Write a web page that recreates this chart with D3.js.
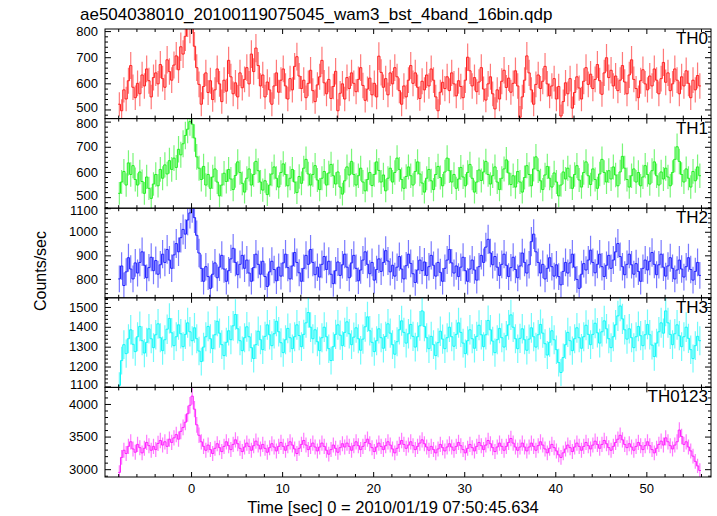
<!DOCTYPE html>
<html><head><meta charset="utf-8">
<script src="https://cdn.jsdelivr.net/npm/d3@7"></script>
<style>body{margin:0;background:#fff}svg{display:block}text{font-family:"Liberation Sans",Helvetica,Arial,sans-serif}</style>
</head><body><svg id="c" width="717" height="516"></svg>
<script>
const title = "ae504038010_20100119075045_wam3_bst_4band_16bin.qdp";
const xLabel = "Time [sec] 0 = 2010/01/19 07:50:45.634";
const yLabel = "Counts/sec";
const tStart = -8, binWidth = 0.25;
const panelNames = ["TH0","TH1","TH2","TH3","TH0123"];
const panelColors = ["#ff2020","#20f020","#2020ff","#10f8f8","#ff20ff"];
const yDomains = [[465,808],[456,812],[720,1100],[1095,1546],[2880,4254]];
const yTicks = [[500,600,700,800],[500,600,700,800],[800,900,1000,1100],[1100,1200,1300,1400,1500],[3000,3500,4000]];
const yMinorStep = [20,20,20,20,100];
const xTicks = [0,10,20,30,40,50];
const xDomain = [-9.45, 57.1];

const th0 = [520,495,575,540,610,668,585,545,600,560,632,590,655,610,548,622,640,598,672,618,585,690,645,612,670,705,652,740,712,780,835,810,
850,742,660,596,520,588,640,565,610,538,575,655,598,530,612,570,688,625,560,602,548,640,583,615,660,598,712,645,735,668,590,632,
548,605,575,520,590,640,566,612,655,590,540,618,575,665,702,628,580,612,545,600,650,572,530,594,625,688,602,560,615,542,588,646,
495,562,598,540,622,580,640,600,568,615,660,592,535,578,620,556,600,548,704,642,585,618,556,640,598,660,625,572,520,590,548,612,
668,600,640,585,542,608,575,632,590,655,612,548,495,566,604,580,625,572,640,598,552,610,588,545,612,700,648,590,622,568,605,660,
578,536,598,625,560,502,575,540,608,650,584,620,566,600,648,590,470,548,612,705,640,575,520,596,632,580,608,665,598,552,590,618,
540,588,475,530,602,560,618,505,565,625,582,540,608,660,596,635,580,615,672,610,558,640,698,622,650,590,628,572,612,668,605,560,
632,690,615,580,545,610,652,598,575,628,590,655,612,560,618,680,604,640,572,598,655,612,560,625,590,648,600,545,612,575,630,590];
const th1 = [515,560,602,548,636,590,625,570,548,600,562,515,580,535,495,552,590,545,610,575,628,592,645,610,655,618,690,668,712,745,770,800,
790,735,660,615,570,622,548,590,535,580,612,560,505,548,595,562,610,572,530,586,640,598,555,520,575,612,548,590,642,605,560,528,
565,510,548,592,620,575,540,598,632,590,545,575,610,560,518,582,555,615,650,592,548,590,625,568,530,575,602,548,596,630,585,552,
600,540,512,565,620,588,642,590,548,585,615,560,525,570,598,546,590,640,606,560,588,525,575,615,560,598,655,610,570,535,582,620,
585,548,602,640,592,556,520,575,610,565,530,590,622,578,545,600,655,605,560,590,535,572,618,580,545,598,630,575,520,560,608,566,
600,642,590,552,585,620,560,530,575,612,648,596,550,585,540,602,560,520,578,625,590,545,612,660,605,565,530,588,622,575,540,596,
560,505,548,600,572,615,580,535,590,625,568,540,598,640,585,550,612,570,535,592,650,598,560,605,572,620,588,545,600,662,615,570,
540,585,612,560,598,545,580,625,590,552,605,640,585,548,600,572,615,580,545,598,650,700,642,590,560,612,575,540,602,565,620,585];
const th2 = [800,855,772,830,890,842,800,868,825,870,915,858,805,848,892,835,878,820,860,905,870,925,880,845,902,950,915,975,1010,990,1050,1080,
1105,1060,985,910,845,790,852,810,760,820,868,805,850,900,842,790,835,885,930,870,818,862,900,845,880,825,790,848,905,862,820,875,
810,768,830,875,840,792,850,812,868,905,848,800,855,912,870,826,790,845,900,862,925,870,818,850,808,862,895,840,875,820,780,835,
872,815,860,905,850,805,868,900,845,792,838,880,915,862,822,870,795,840,885,832,870,920,876,830,858,812,850,895,842,800,856,905,
866,822,785,838,880,835,872,815,852,900,858,812,870,828,790,845,880,925,868,825,855,810,850,892,835,790,842,880,838,795,852,900,
870,935,968,910,860,895,850,815,862,905,858,810,848,892,840,805,855,910,870,825,860,958,990,915,870,825,862,800,845,890,852,812,
860,810,775,832,870,825,868,905,850,798,760,820,865,838,880,922,870,826,862,905,852,810,858,900,845,880,915,950,895,852,818,862,
905,860,820,865,832,790,845,880,838,875,912,862,818,860,905,850,812,855,890,845,800,838,880,842,808,852,890,840,795,832,870,815];
const th3 = [1105,1230,1310,1265,1340,1385,1312,1275,1350,1402,1330,1268,1322,1390,1340,1295,1360,1415,1345,1280,1335,1388,1442,1370,1305,1350,1410,1365,1300,1362,1420,1375,
1330,1395,1340,1278,1225,1298,1350,1402,1340,1290,1360,1428,1368,1310,1255,1322,1380,1335,1405,1462,1390,1330,1280,1345,1400,1350,1295,1240,1310,1378,1335,1285,
1352,1410,1360,1305,1365,1428,1375,1320,1270,1335,1392,1345,1290,1350,1410,1356,1300,1362,1420,1472,1398,1340,1385,1325,1280,1345,1398,1350,1290,1230,1300,1362,
1410,1358,1305,1372,1425,1365,1310,1348,1395,1340,1282,1338,1400,1450,1380,1322,1275,1330,1390,1345,1292,1352,1415,1368,1310,1262,1325,1385,1430,1372,1318,1365,
1412,1352,1298,1350,1405,1480,1402,1345,1290,1352,1310,1255,1320,1378,1338,1290,1345,1398,1350,1302,1362,1420,1372,1318,1265,1330,1385,1340,1292,1352,1408,1360,
1300,1360,1432,1385,1328,1270,1335,1392,1345,1298,1355,1410,1460,1398,1340,1290,1342,1390,1335,1282,1338,1395,1350,1298,1360,1412,1368,1315,1258,1322,1380,1335,
1285,1220,1170,1245,1310,1372,1330,1280,1340,1395,1345,1292,1350,1408,1362,1310,1362,1418,1370,1318,1375,1430,1390,1340,1295,1350,1410,1455,1505,1440,1385,1338,
1390,1345,1295,1350,1402,1355,1305,1360,1412,1360,1308,1250,1318,1375,1420,1368,1480,1420,1362,1310,1365,1410,1355,1300,1350,1398,1342,1285,1240,1305,1352,1330];
const th0123 = [2950,3180,3290,3240,3350,3420,3310,3260,3380,3330,3250,3320,3410,3360,3290,3350,3300,3395,3440,3370,3420,3350,3460,3410,3480,3530,3460,3580,3640,3720,3850,3980,
4120,3920,3680,3520,3420,3350,3290,3370,3300,3240,3320,3390,3330,3270,3350,3420,3360,3300,3380,3450,3390,3320,3270,3340,3400,3350,3290,3360,3430,3370,3310,3380,
3320,3260,3330,3390,3340,3280,3350,3410,3350,3290,3360,3420,3370,3310,3240,3320,3380,3440,3370,3300,3350,3400,3340,3280,3340,3400,3350,3290,3230,3300,3370,3320,
3260,3330,3390,3340,3400,3350,3290,3360,3420,3360,3300,3350,3410,3460,3390,3330,3270,3340,3400,3350,3300,3360,3420,3370,3310,3250,3320,3380,3440,3380,3320,3370,
3420,3360,3300,3350,3400,3450,3390,3340,3290,3350,3300,3250,3310,3380,3330,3280,3340,3390,3340,3290,3350,3410,3360,3300,3250,3320,3380,3330,3280,3350,3410,3360,
3300,3370,3440,3390,3330,3270,3340,3400,3350,3290,3350,3410,3470,3400,3340,3290,3340,3400,3340,3280,3340,3400,3350,3290,3360,3420,3370,3310,3250,3320,3380,3330,
3280,3220,3180,3250,3310,3370,3330,3270,3340,3400,3350,3290,3350,3410,3360,3310,3370,3430,3380,3320,3380,3440,3390,3330,3290,3350,3410,3460,3520,3450,3380,3330,
3390,3340,3290,3350,3410,3360,3300,3360,3420,3360,3300,3250,3320,3380,3430,3370,3480,3420,3360,3310,3370,3420,3600,3500,3380,3420,3340,3280,3200,3120,3050,2980];
const series = [th0, th1, th2, th3, th0123];

const pL = 105, pR = 711, pT = 29, pB = 477;
const ph = (pB - pT) / series.length;
const svg = d3.select("#c");
const x = d3.scaleLinear().domain(xDomain).range([pL, pR]);
const xMinor = d3.range(-8, 57, 2).filter(v => v % 10 !== 0);

svg.append("text").attr("x", 80).attr("y", 20).attr("font-size", 17).text(title);

series.forEach((vals, i) => {
  const y0 = pT + i * ph;
  const y = d3.scaleLinear().domain(yDomains[i]).range([y0 + ph, y0]);
  const col = panelColors[i];
  const pts = vals.map((v, k) => ({t: tStart + (k + 0.5) * binWidth, v, e: Math.sqrt(v * binWidth) / binWidth}));
  const cid = "clip" + i;
  svg.append("clipPath").attr("id", cid).append("rect").attr("x", pL).attr("y", y0).attr("width", pR - pL).attr("height", ph);
  const g = svg.append("g").attr("clip-path", `url(#${cid})`);
  g.selectAll("line.err").data(pts).join("line").attr("class", "err")
    .attr("x1", d => x(d.t)).attr("x2", d => x(d.t))
    .attr("y1", d => y(d.v - d.e)).attr("y2", d => y(d.v + d.e))
    .attr("stroke", col).attr("stroke-opacity", 0.6).attr("stroke-width", 1.2);
  const stepPts = [];
  pts.forEach(d => { stepPts.push([d.t - binWidth / 2, d.v]); stepPts.push([d.t + binWidth / 2, d.v]); });
  g.append("path").attr("d", d3.line().x(d => x(d[0])).y(d => y(d[1]))(stepPts))
    .attr("fill", "none").attr("stroke", col).attr("stroke-width", 1);

  const minors = d3.range(Math.ceil(yDomains[i][0] / yMinorStep[i]) * yMinorStep[i], yDomains[i][1], yMinorStep[i]).filter(v => !yTicks[i].includes(v));
  const ax = (gen, tx, ty) => svg.append("g").attr("transform", `translate(${tx},${ty})`).call(gen);
  const styleAxis = sel => { sel.select(".domain").remove(); sel.selectAll("line").attr("stroke", "#000"); sel.selectAll("text").attr("font-size", 13).attr("font-family", "Liberation Sans, Arial, sans-serif").attr("fill", "#000"); };
  const yl = ax(d3.axisLeft(y).tickValues(yTicks[i]).tickSizeInner(-6).tickSizeOuter(0).tickPadding(7).tickFormat(d3.format("d")), pL, 0).call(styleAxis);
  // nudge labels sitting on a shared panel edge apart slightly
  yl.selectAll(".tick text").attr("y", d => {
    const py = y(d);
    if (py - y0 < 6 && i > 0) return 2;
    if (y0 + ph - py < 12 && i < series.length - 1) return -2;
    return 0;
  });
  ax(d3.axisLeft(y).tickValues(minors).tickSizeInner(-3).tickSizeOuter(0).tickFormat(""), pL, 0).call(styleAxis);
  ax(d3.axisRight(y).tickValues(yTicks[i]).tickSizeInner(-6).tickSizeOuter(0).tickFormat(""), pR, 0).call(styleAxis);
  ax(d3.axisRight(y).tickValues(minors).tickSizeInner(-3).tickSizeOuter(0).tickFormat(""), pR, 0).call(styleAxis);
  const last = i === series.length - 1;
  ax(d3.axisBottom(x).tickValues(xTicks).tickSizeInner(-5).tickSizeOuter(0).tickPadding(7).tickFormat(last ? d3.format("d") : ""), 0, y0 + ph).call(styleAxis);
  ax(d3.axisBottom(x).tickValues(xMinor).tickSizeInner(-3).tickSizeOuter(0).tickFormat(""), 0, y0 + ph).call(styleAxis);
  ax(d3.axisTop(x).tickValues(xTicks).tickSizeInner(-5).tickSizeOuter(0).tickFormat(""), 0, y0).call(styleAxis);
  ax(d3.axisTop(x).tickValues(xMinor).tickSizeInner(-3).tickSizeOuter(0).tickFormat(""), 0, y0).call(styleAxis);
  svg.append("rect").attr("x", pL).attr("y", y0).attr("width", pR - pL).attr("height", ph)
    .attr("fill", "none").attr("stroke", "#000").attr("stroke-width", 1);
  svg.append("text").attr("x", pR - 3).attr("y", y0 + 15).attr("text-anchor", "end").attr("font-size", 17).text(panelNames[i]);
});

svg.append("text").attr("x", (pL + pR) / 2 - 15).attr("y", 513).attr("text-anchor", "middle").attr("font-size", 16.5).text(xLabel);
svg.append("text").attr("transform", `translate(46,${(pT + pB) / 2 + 18}) rotate(-90)`).attr("text-anchor", "middle").attr("font-size", 16).text(yLabel);
</script></body></html>
